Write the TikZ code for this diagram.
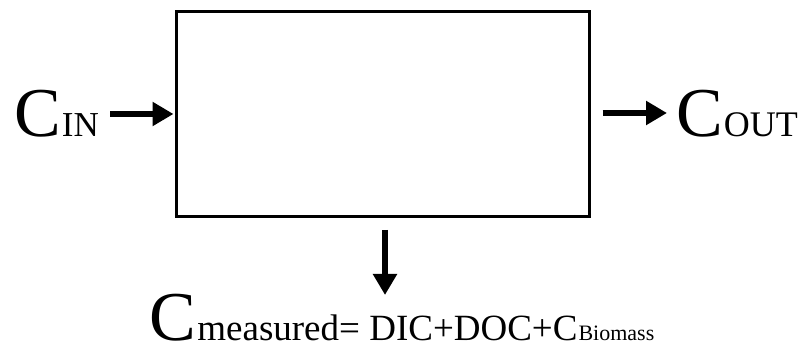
\documentclass[tikz,border=0pt]{standalone}
\usepackage{fontspec}
\setmainfont{Liberation Serif}
\usetikzlibrary{arrows.meta}
\tikzset{
  arr/.style={line width=6pt,-{Triangle[length=21pt,width=23pt]}},
  lbl/.style={inner sep=0pt,anchor=base west,text depth=0pt},
}
\begin{document}
\begin{tikzpicture}[x=1pt,y=1pt]
\useasboundingbox (0,0) rectangle (805,347);
\node[draw,line width=3pt,minimum width=412.5pt,minimum height=205.5pt,inner sep=0pt] (box) at (382.75,232.75) {};
\node[lbl] (cin) at (14,210) {\fontsize{70}{70}\selectfont C\kern1pt\fontsize{35}{35}\selectfont IN};
\node[lbl] (cout) at (676,210) {\fontsize{70}{70}\selectfont C\kern1pt\fontsize{36}{36}\selectfont OUT};
\node[lbl] (cmeas) at (149,6) {\fontsize{70}{70}\selectfont C\kern1.5pt\fontsize{37}{37}\selectfont measured= DIC+DOC+C\kern1pt\fontsize{22}{22}\selectfont Biomass};
\coordinate (a1s) at (110,233);
\coordinate (a1e) at (box.west |- a1s);
\coordinate (a2s) at (box.east |- 0,234);
\coordinate (a2e) at (667,234);
\coordinate (a3s) at (385,117);
\coordinate (a3e) at (385,52);
\draw[arr] (a1s) -- ([xshift=-1.5pt]a1e);
\draw[arr] ([xshift=12pt]a2s) -- (a2e);
\draw[arr] (a3s) -- (a3e);
\end{tikzpicture}
\end{document}
